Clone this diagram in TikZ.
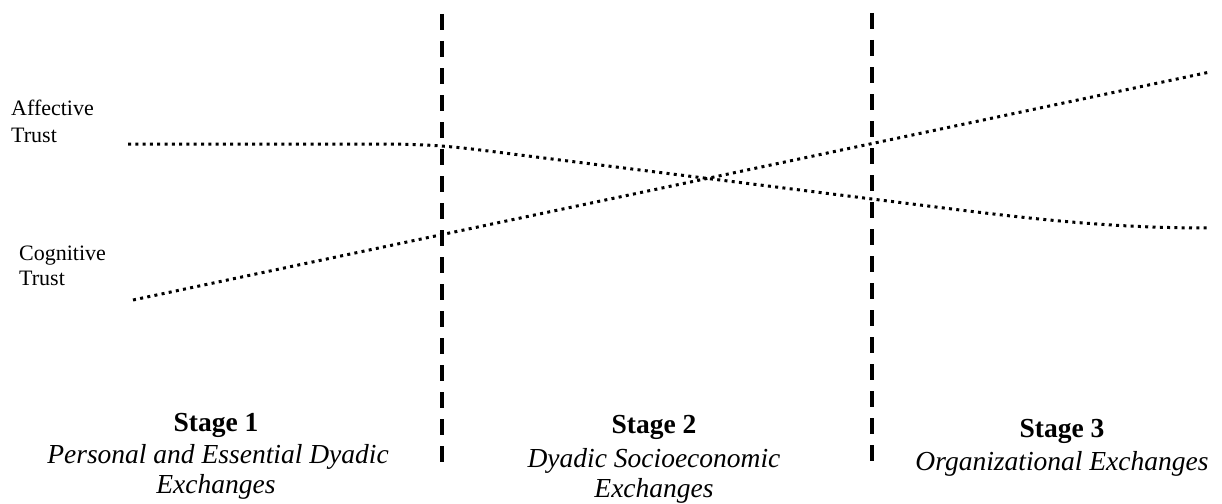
\documentclass[tikz,border=0pt]{standalone}
\usepackage{fontspec}
\setmainfont{Liberation Serif}
\begin{document}
\begin{tikzpicture}[x=1pt,y=-1pt,
  stagedivider/.style={line width=3.6pt,dash pattern=on 16pt off 11pt},
  trustcurve/.style={line width=3pt,dash pattern=on 3pt off 4.3pt},
  trustlabel/.style={anchor=base west,inner sep=0pt,font=\fontsize{22}{27}\selectfont,align=left},
  stagetitle/.style={anchor=base,inner sep=0pt,font=\fontsize{27.5}{31}\selectfont\bfseries},
  stagetext/.style={anchor=base,inner sep=0pt,font=\fontsize{27.5}{31}\selectfont\itshape}]
\useasboundingbox (0,0) rectangle (1222,503);
% stage dividers
\draw[stagedivider] (442,14) -- (442,466);
\draw[stagedivider] (872,13) -- (872,466);
% curves
\draw[trustcurve] (128,144) -- (380,144) .. controls (440,144) and (464,148) .. (520,155)
  -- (960,210) .. controls (1050,221) and (1120,228) .. (1210,228);
\draw[trustcurve] (133,300) -- (1210,72);
% labels
\node[trustlabel] (aff1) at (11,115) {Affective};
\node[trustlabel] (aff2) at (11,142) {Trust};
\node[trustlabel] (cog1) at (19,260) {Cognitive};
\node[trustlabel] (cog2) at (19,285) {Trust};
\node[stagetitle] (s1) at (216,431) {Stage 1};
\node[stagetext] (s1a) at (218,463) {Personal and Essential Dyadic};
\node[stagetext] (s1b) at (216,493) {Exchanges};
\node[stagetitle] (s2) at (654,433) {Stage 2};
\node[stagetext] (s2a) at (654,467) {Dyadic Socioeconomic};
\node[stagetext] (s2b) at (654,497) {Exchanges};
\node[stagetitle] (s3) at (1062,437) {Stage 3};
\node[stagetext] (s3a) at (1062,470) {Organizational Exchanges};
\end{tikzpicture}
\end{document}
